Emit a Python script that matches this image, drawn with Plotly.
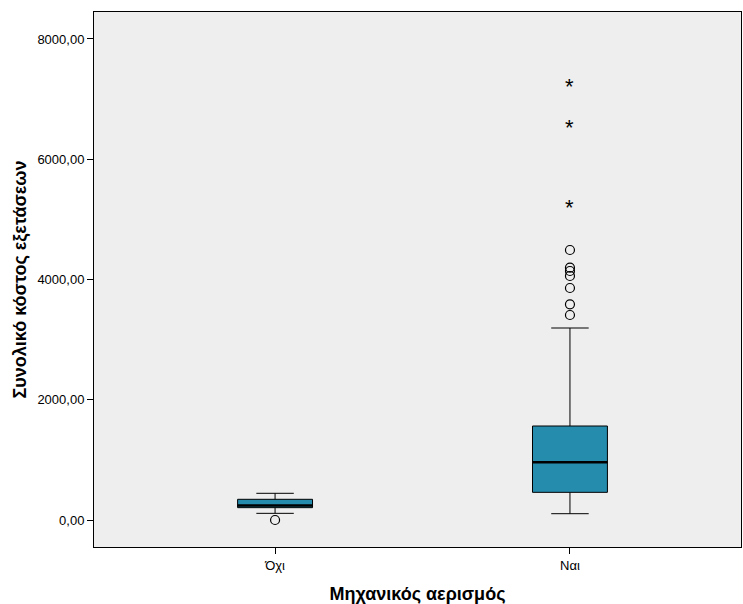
import plotly.graph_objects as go

categories = ["Όχι", "Ναι"]
q1 = [205, 460]
median = [240, 960]
q3 = [344, 1563]
lower_whisker = [111, 105]
upper_whisker = [444, 3193]
# outliers (circles) and extremes (stars)
outliers_cat = [0, 1, 1, 1, 1, 1, 1, 1]
outliers_val = [0, 4490, 4196, 4141, 4058, 3858, 3587, 3409]
extremes_cat = [1, 1, 1]
extremes_val = [7245, 6557, 5227]
ytick_vals = [0, 2000, 4000, 6000, 8000]
ytick_text = ["0,00", "2000,00", "4000,00", "6000,00", "8000,00"]

box_w = 0.254
fill = "#268CAE"

fig = go.Figure()
xs = list(range(len(categories)))
fig.add_trace(go.Box(
    x=xs, q1=q1, median=median, q3=q3,
    lowerfence=lower_whisker, upperfence=upper_whisker,
    width=box_w, whiskerwidth=0.5,
    fillcolor=fill, line=dict(color="black", width=1),
    boxpoints=False, showlegend=False, hoverinfo="skip",
))
# thicker median lines
for i, m in zip(xs, median):
    fig.add_trace(go.Scatter(x=[i - box_w / 2, i + box_w / 2], y=[m, m], mode="lines",
                             line=dict(color="black", width=2.5), showlegend=False, hoverinfo="skip"))
fig.add_trace(go.Scatter(x=outliers_cat, y=outliers_val, mode="markers",
                         marker=dict(symbol="circle-open", size=9, color="black", line=dict(width=1.2)),
                         showlegend=False))
for c, v in zip(extremes_cat, extremes_val):
    fig.add_annotation(x=c, y=v, text="*", showarrow=False, yshift=-2,
                       font=dict(size=22, color="black", family="Liberation Sans, Arial, sans-serif"))

fig.update_layout(
    width=743, height=604,
    margin=dict(l=94, r=2, t=12, b=57),
    paper_bgcolor="white", plot_bgcolor="#EEEEEE",
    font=dict(family="Liberation Sans, Arial, sans-serif", size=13, color="black"),
    xaxis=dict(
        range=[-0.614, 1.58], tickvals=xs, ticktext=categories,
        showgrid=False, zeroline=False, showline=True, linecolor="black", linewidth=1, mirror=True,
        ticks="outside", ticklen=6, tickcolor="black",
        title=dict(text="<b>Μηχανικός αερισμός</b>", font=dict(size=18), standoff=15),
    ),
    yaxis=dict(
        range=[-449, 8448], tickvals=ytick_vals, ticktext=ytick_text,
        showgrid=False, zeroline=False, showline=True, linecolor="black", linewidth=1, mirror=True,
        ticks="outside", ticklen=6, tickcolor="black",
        title=dict(text="<b>Συνολικό κόστος εξετάσεων</b>", font=dict(size=18), standoff=6),
    ),
)
fig.write_html("out.html")
